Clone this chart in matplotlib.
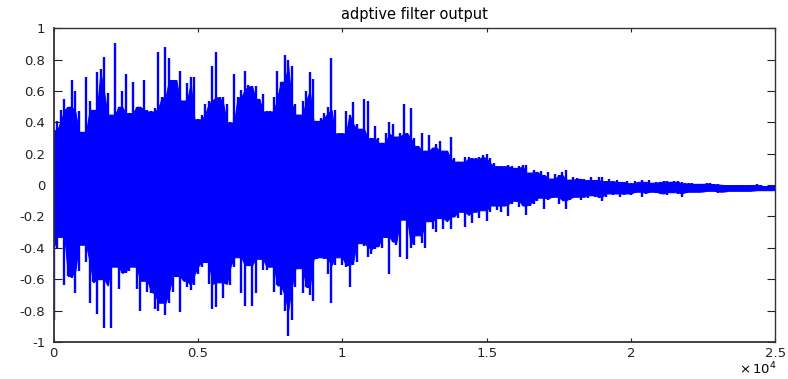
import numpy as np
import matplotlib
matplotlib.use("Agg")
import matplotlib.pyplot as plt

# peak envelope of the filter output, one value per 125-sample block
block = 125
upper = [
    0.35, 0.41, 0.48, 0.55, 0.50, 0.67, 0.60, 0.47, 0.34, 0.69,
    0.54, 0.48, 0.72, 0.74, 0.82, 0.59, 0.45, 0.91, 0.50, 0.60,
    0.71, 0.46, 0.66, 0.50, 0.50, 0.67, 0.48, 0.47, 0.49, 0.85,
    0.56, 0.88, 0.81, 0.67, 0.67, 0.73, 0.54, 0.65, 0.69, 0.69,
    0.42, 0.45, 0.52, 0.54, 0.76, 0.85, 0.56, 0.56, 0.52, 0.40,
    0.71, 0.56, 0.61, 0.73, 0.64, 0.63, 0.63, 0.55, 0.58, 0.47,
    0.47, 0.56, 0.73, 0.66, 0.83, 0.80, 0.76, 0.52, 0.45, 0.54,
    0.60, 0.72, 0.68, 0.41, 0.43, 0.46, 0.50, 0.81, 0.48, 0.33,
    0.33, 0.47, 0.45, 0.53, 0.39, 0.36, 0.55, 0.54, 0.30, 0.38,
    0.30, 0.27, 0.33, 0.40, 0.39, 0.31, 0.33, 0.52, 0.33, 0.49,
    0.30, 0.25, 0.33, 0.22, 0.32, 0.24, 0.26, 0.28, 0.22, 0.22,
    0.31, 0.17, 0.15, 0.15, 0.18, 0.18, 0.17, 0.17, 0.18, 0.19,
    0.20, 0.17, 0.14, 0.12, 0.12, 0.12, 0.13, 0.12, 0.11, 0.12,
    0.13, 0.13, 0.08, 0.096, 0.085, 0.09, 0.065, 0.085, 0.042, 0.074,
    0.064, 0.085, 0.096, 0.035, 0.055, 0.045, 0.04, 0.042, 0.032, 0.05,
    0.032, 0.05, 0.053, 0.025, 0.04, 0.025, 0.032, 0.02, 0.021, 0.025,
    0.012, 0.028, 0.021, 0.032, 0.021, 0.032, 0.015, 0.02, 0.022, 0.026,
    0.025, 0.021, 0.024, 0.028, 0.021, 0.011, 0.012, 0.011, 0.008, 0.008,
    0.01, 0.011, 0.011, 0.008, 0.006, 0.004, 0.002, 0.0, 0.0, 0.0,
    0.0, 0.0, 0.0, 0.0, 0.002, 0.006, 0.004, -0.004, -0.006, -0.006, 0.0,
]
lower = [
    -0.86, -0.40, -0.33, -0.64, -0.58, -0.59, -0.69, -0.55, -0.38, -0.49,
    -0.75, -0.62, -0.82, -0.60, -0.91, -0.64, -0.91, -0.52, -0.66, -0.56,
    -0.56, -0.55, -0.52, -0.66, -0.80, -0.61, -0.68, -0.69, -0.79, -0.80,
    -0.75, -0.83, -0.75, -0.68, -0.58, -0.81, -0.61, -0.65, -0.67, -0.64,
    -0.57, -0.52, -0.49, -0.63, -0.79, -0.78, -0.62, -0.72, -0.63, -0.64,
    -0.52, -0.46, -0.69, -0.77, -0.51, -0.77, -0.69, -0.47, -0.54, -0.54,
    -0.52, -0.68, -0.64, -0.70, -0.80, -0.96, -0.86, -0.65, -0.53, -0.69,
    -0.65, -0.70, -0.74, -0.47, -0.46, -0.47, -0.57, -0.75, -0.51, -0.46,
    -0.51, -0.52, -0.65, -0.51, -0.49, -0.37, -0.39, -0.46, -0.44, -0.41,
    -0.39, -0.40, -0.33, -0.57, -0.36, -0.38, -0.46, -0.22, -0.47, -0.40,
    -0.38, -0.32, -0.37, -0.40, -0.23, -0.28, -0.30, -0.21, -0.28, -0.23,
    -0.28, -0.20, -0.21, -0.17, -0.27, -0.19, -0.24, -0.17, -0.21, -0.16,
    -0.23, -0.17, -0.13, -0.16, -0.17, -0.13, -0.20, -0.12, -0.10, -0.14,
    -0.13, -0.19, -0.13, -0.12, -0.10, -0.08, -0.155, -0.096, -0.085, -0.074,
    -0.12, -0.096, -0.155, -0.096, -0.085, -0.074, -0.096, -0.074, -0.085, -0.064,
    -0.074, -0.08, -0.10, -0.074, -0.053, -0.064, -0.053, -0.074, -0.06, -0.053,
    -0.064, -0.053, -0.042, -0.074, -0.053, -0.05, -0.042, -0.05, -0.053, -0.058,
    -0.064, -0.045, -0.045, -0.057, -0.074, -0.053, -0.045, -0.042, -0.042, -0.042,
    -0.042, -0.04, -0.036, -0.04, -0.049, -0.045, -0.042, -0.04, -0.036, -0.036,
    -0.036, -0.036, -0.036, -0.036, -0.036, -0.034, -0.032, -0.036, -0.034, -0.032, -0.032,
]

xticks = [0, 5000, 10000, 15000, 20000, 25000]
xticklabels = ["0", "0.5", "1", "1.5", "2", "2.5"]
yticks = [-1, -0.8, -0.6, -0.4, -0.2, 0, 0.2, 0.4, 0.6, 0.8, 1]

n = np.arange(len(upper)) * block
up = np.array(upper)
lo = np.array(lower)

# solid body of the waveform: the smallest swing among neighbouring blocks
up_pad = np.pad(up, 1, mode="edge")
lo_pad = np.pad(lo, 1, mode="edge")
body_up = np.minimum(np.minimum(up_pad[:-2], up_pad[1:-1]), up_pad[2:])
body_lo = np.maximum(np.maximum(lo_pad[:-2], lo_pad[1:-1]), lo_pad[2:])

fig = plt.figure(figsize=(7.88, 3.79), dpi=100)
ax = fig.add_axes([0.068, 0.098, 0.916, 0.827])

ax.fill_between(n, body_lo, body_up, color="#0000ff", linewidth=0.8,
                edgecolor="#0000ff")
# individual peaks of each block
ax.vlines(n, lo, up, color="#0000ff", linewidth=1.7)

ax.set_xlim(0, 25000)
ax.set_ylim(-1, 1)
ax.set_xticks(xticks)
ax.set_xticklabels(xticklabels)
ax.set_yticks(yticks)
ax.set_yticklabels(["%g" % v for v in yticks])

ax.tick_params(direction="in", top=True, right=True, labelsize=9.5, colors="#222222")
ax.tick_params(axis="y", length=6, pad=6)
ax.tick_params(axis="x", length=3, pad=4)
for side, sp in ax.spines.items():
    sp.set_color("#333333")
    sp.set_linewidth(1.3 if side in ("left", "bottom") else 1.0)

ax.set_title("adptive filter output", fontsize=10.5, pad=7)
fig.text(0.986, 0.004, r"$\times\,10^{4}$", ha="right", va="bottom", fontsize=9.5)

fig.savefig("out.png", dpi=100)
